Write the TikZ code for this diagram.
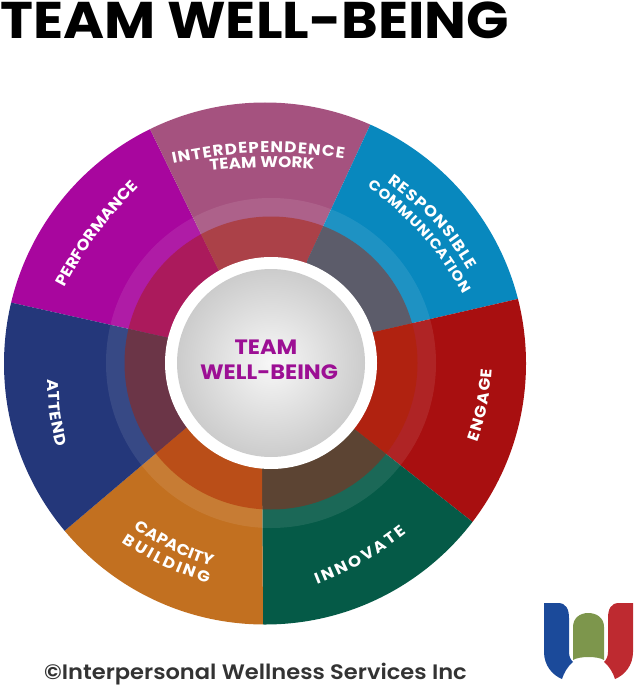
\documentclass[tikz,border=0pt]{standalone}
\usepackage{fontspec}
\setmainfont{Poppins}[FakeStretch=1.08]
\newfontfamily\footerfont{Poppins SemiBold}[FakeStretch=1.08]
\usetikzlibrary{calc,decorations.text}
\definecolor{perfcol}{HTML}{A8069E}
\definecolor{perfring}{HTML}{AB1A5C}
\definecolor{intercol}{HTML}{A5527F}
\definecolor{interring}{HTML}{AB4148}
\definecolor{respcol}{HTML}{0888BE}
\definecolor{respring}{HTML}{5C5C6A}
\definecolor{engcol}{HTML}{A80F10}
\definecolor{engring}{HTML}{B02210}
\definecolor{innocol}{HTML}{055A47}
\definecolor{innoring}{HTML}{5C4433}
\definecolor{capcol}{HTML}{C27020}
\definecolor{capring}{HTML}{BA4E18}
\definecolor{attcol}{HTML}{24377A}
\definecolor{attring}{HTML}{6B3547}
\definecolor{hubtext}{HTML}{9C0F94}
\newcommand{\labelfont}{\fontsize{15.5}{15.5}\selectfont\bfseries\color{white}}
\newcommand{\tightlabelfont}{\fontsize{14}{14}\selectfont\bfseries\color{white}}
\tikzset{
  wheel text/.style={
    decorate,
    decoration={text along path,text align={fit to path},text={|\labelfont|#1}}
  },
  tight wheel text/.style={
    decorate,
    decoration={text along path,text align={fit to path},text={|\tightlabelfont|#1}}
  },
  hub text/.style={text=hubtext,font=\fontsize{20.8}{20.8}\selectfont\bfseries}
}
\begin{document}
\begin{tikzpicture}[x=1pt,y=-1pt]
    \useasboundingbox (0,0) rectangle (635,687);
    \coordinate (wheel) at (265,363.5);
    \coordinate (hub) at (271,363);
    % sector edges: inner end, outer end
    \coordinate (i1) at (165,337); \coordinate (o1) at (4,301);
    \coordinate (i2) at (217,267); \coordinate (o2) at (149,127);
    \coordinate (i3) at (308,259); \coordinate (o3) at (372,121);
    \coordinate (i4) at (374,332); \coordinate (o4) at (522,298);
    \coordinate (i5) at (353,428); \coordinate (o5) at (474,523);
    \coordinate (i6) at (262,466); \coordinate (o6) at (263,628);
    \coordinate (i7) at (187,427); \coordinate (o7) at (62,533);
    \begin{scope}
      \clip (wheel) circle[radius=261pt];
      \foreach \a/\b/\col in {1/2/perfcol,2/3/intercol,3/4/respcol,4/5/engcol,5/6/innocol,6/7/capcol,7/1/attcol}
        \fill[\col] (hub) -- (i\a) -- (o\a) -- ($(wheel)!1.6!($(o\a)!.5!(o\b)$)$) -- (o\b) -- (i\b) -- cycle;
    \end{scope}
    \fill[white,opacity=.09] (hub) circle[radius=165pt];
    \foreach \a/\b/\col in {1/2/perfring,2/3/interring,3/4/respring,4/5/engring,5/6/innoring,6/7/capring,7/1/attring}{
      \begin{scope}
        \clip (hub) -- (i\a) -- (o\a) -- ($(wheel)!1.6!($(o\a)!.5!(o\b)$)$) -- (o\b) -- (i\b) -- cycle;
        \fill[\col] (hub) circle[radius=146.5pt];
      \end{scope}
    }
    \fill[white] (hub) circle[radius=106pt];
    \shade[inner color=white!97!black,outer color=white!80!black] (hub) circle[radius=94pt];

    \path[wheel text={INTERDEPENDENCE}] (173,164) to[bend left=10] (344,159);
    \path[wheel text={TEAM WORK}] (210,171) to[bend left=5] (314,169);
    \path[wheel text={RESPONSIBLE}] (387,183) to[bend left=12] (468,270);
    \path[tight wheel text={COMMUNICATION}] (367,187) to[bend left=12] (463,294);
    \path[wheel text={ENGAGE}] (477,442) to[bend right=8] (492,369);
    \path[wheel text={INNOVATE}] (317,584) to[bend right=8] (407,533);
    \path[wheel text={CAPACITY}] (134,528) to[bend right=8] (208,565);
    \path[wheel text={BUILDING}] (122,542) to[bend right=8] (208,583);
    \path[wheel text={ATTEND}] (48,379) to[bend right=8] (57,447);
    \path[wheel text={PERFORMANCE}] (65,288) to[bend left=8] (139,187);

    \node[hub text] (hubtop) at (266,347) {TEAM};
    \node[hub text] (hubbottom) at (269,372) {WELL-BEING};
    \node[font=\fontsize{51.6}{51.6}\selectfont\bfseries,anchor=base west,inner sep=0pt] (title) at (0,38.5) {TEAM WELL-BEING};
    \node[font=\fontsize{20.9}{20.9}\footerfont,text=black!80,anchor=base west,inner sep=0pt] (footer) at (44,679) {©Interpersonal Wellness Services Inc};

    % logo
    \fill[fill={rgb,255:red,27;green,74;blue,154}] (544,603) -- (558,603) .. controls (566,603) and (569,609) .. (569,618) -- (569,652) .. controls (569,657) and (571,660) .. (573,662) .. controls (567,667) and (564,673) .. (562,679) .. controls (552,675) and (544,665) .. (544,652) -- cycle;
    \fill[fill={rgb,255:red,125;green,150;blue,76}] (573,660) -- (573,627) .. controls (573,618) and (580,613) .. (588,613) .. controls (597,613) and (604,618) .. (604,627) -- (604,660) .. controls (598,656) and (579,656) .. (573,660) -- cycle;
    \fill[fill={rgb,255:red,190;green,42;blue,48}] (633,603) -- (619,603) .. controls (611,603) and (608,609) .. (608,618) -- (608,652) .. controls (608,657) and (606,660) .. (604,662) .. controls (610,667) and (613,673) .. (615,679) .. controls (625,675) and (633,665) .. (633,652) -- cycle;
\end{tikzpicture}
\end{document}
